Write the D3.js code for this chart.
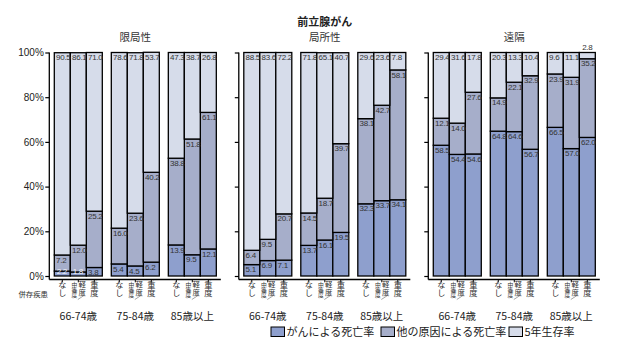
<!DOCTYPE html>
<html><head><meta charset="utf-8">
<script src="https://cdn.jsdelivr.net/npm/d3@7/dist/d3.min.js"></script>
<style>body{margin:0;background:#fff} svg{display:block}</style>
</head><body><svg id="c" width="618" height="341"></svg>
<script>
const chartTitle = "前立腺がん";
const stages = ["限局性", "局所性", "遠隔"];
const ages = ["66-74歳", "75-84歳", "85歳以上"];
const comorb = ["なし", "中等度/軽度", "重度"];
const comorbAxisTitle = "併存疾患";
const seriesNames = ["がんによる死亡率", "他の原因による死亡率", "5年生存率"];
const yTicks = [0, 20, 40, 60, 80, 100];
// per stage: [66-74 なし, 中軽, 重, 75-84 ..., 85+ ...]
const cancerDeath = [
  [2.2, 1.8, 3.8, 5.4, 4.5, 6.2, 13.9, 9.5, 12.1],
  [5.1, 6.9, 7.1, 13.7, 16.1, 19.5, 32.3, 33.7, 34.1],
  [58.5, 54.4, 54.6, 64.8, 64.6, 56.7, 66.5, 57.0, 62.0]
];
const otherDeath = [
  [7.2, 12.0, 25.2, 16.0, 23.6, 40.2, 38.8, 51.8, 61.1],
  [6.4, 9.5, 20.7, 14.5, 18.7, 39.7, 38.1, 42.7, 58.1],
  [12.1, 14.0, 27.6, 14.9, 22.1, 32.9, 23.9, 31.9, 35.2]
];
const survival = [
  [90.5, 86.1, 71.0, 78.6, 71.8, 53.7, 47.3, 38.7, 26.8],
  [88.5, 83.6, 72.2, 71.8, 65.1, 40.7, 29.6, 23.6, 7.8],
  [29.4, 31.6, 17.8, 20.3, 13.3, 10.4, 9.6, 11.1, 2.8]
];
const colors = ["#8e9fcd", "#a6aeca", "#d6dcea"];

const svg = d3.select("#c");
const txt = "#333";
const numFont = "'Liberation Sans Narrow','Arial Narrow','Liberation Sans',Arial,sans-serif";
const jpFont = "'Noto Sans CJK JP','Noto Sans CJK SC',sans-serif";

const y = d3.scaleLinear().domain([0, 100]).range([276, 52.5]);
const panelX = d3.scaleBand().domain(stages).range([54.3, 595.3]).paddingInner(0.145);
const groupX = d3.scaleBand().domain(ages).range([0, panelX.bandwidth()]).paddingInner(0.158);
const barX = d3.scaleBand().domain(comorb).range([0, groupX.bandwidth()]).padding(0);
const axisBottomY = 279.5;

const rows = [];
stages.forEach((s, si) => {
  ages.forEach((a, ai) => {
    comorb.forEach((c, ci) => {
      const k = ai * 3 + ci;
      rows.push({stage: s, age: a, com: c,
        v0: cancerDeath[si][k], v1: otherDeath[si][k], v2: survival[si][k]});
    });
  });
});
const layers = d3.stack().keys(["v0", "v1", "v2"])(rows);

function bx(d) { return panelX(d.stage) + groupX(d.age) + barX(d.com); }
const bw = barX.bandwidth();

// Title
svg.append("text").attr("x", panelX("局所性") + panelX.bandwidth() / 2).attr("y", 26)
  .attr("text-anchor", "middle").attr("font-family", jpFont).attr("font-weight", "bold")
  .attr("font-size", 11).attr("fill", "#222").text(chartTitle);

// Panels: titles + axes
stages.forEach((s, si) => {
  const px = panelX(s);
  svg.append("text").attr("x", px + panelX.bandwidth() / 2).attr("y", 40.5)
    .attr("text-anchor", "middle").attr("font-family", jpFont).attr("font-size", 10.5)
    .attr("fill", txt).text(s);
  const ax = px - 5;
  const g = svg.append("g").attr("transform", `translate(${ax},0)`);
  const axis = d3.axisLeft(y).tickValues(yTicks).tickSize(4).tickFormat(si === 0 ? d => d + "%" : "");
  g.call(axis);
  g.select(".domain").remove();
  g.selectAll(".tick line").attr("stroke", "#000").attr("stroke-width", 1.2);
  g.selectAll(".tick text").attr("font-family", "'Liberation Sans',Arial,sans-serif")
    .attr("font-size", 10).attr("fill", "#222").attr("x", -5.5);
  g.append("line").attr("x1", 0).attr("x2", 0).attr("y1", y(100)).attr("y2", axisBottomY)
    .attr("stroke", "#000").attr("stroke-width", 1.3);
  svg.append("line").attr("x1", ax).attr("x2", px + panelX.bandwidth() + 4.5)
    .attr("y1", axisBottomY).attr("y2", axisBottomY).attr("stroke", "#000").attr("stroke-width", 1.3);
});

// Bars
layers.forEach((layer, li) => {
  svg.append("g").selectAll("rect").data(layer).join("rect")
    .attr("x", d => bx(d.data)).attr("width", bw)
    .attr("y", d => y(d[1])).attr("height", d => y(d[0]) - y(d[1]))
    .attr("fill", colors[li]).attr("stroke", "#000").attr("stroke-width", 1.3);
});

// Value labels
layers.forEach((layer, li) => {
  layer.forEach(d => {
    const val = d.data[["v0", "v1", "v2"][li]];
    const x0 = bx(d.data);
    let t;
    if (li === 2 && val < 5) {
      t = svg.append("text").attr("x", x0 + bw / 2).attr("y", y(d[1]) - 2.5)
        .attr("text-anchor", "middle").attr("fill", txt);
    } else if (li === 0 && val < 3) {
      t = svg.append("text").attr("x", x0 + 2.5).attr("y", y(d[1]) + 2.5)
        .attr("fill", "#f4f4f8");
    } else {
      t = svg.append("text").attr("x", x0 + 1.8).attr("y", y(d[1]) + 7.6).attr("fill", txt);
    }
    t.attr("font-family", numFont).attr("font-size", 8).attr("letter-spacing", -0.3)
      .text(d3.format(".1f")(val));
  });
});

// X axis ticks and vertical comorbidity labels
function vtext(g, x, yTop, size, spacing, s) {
  g.append("text").attr("x", x).attr("y", yTop)
    .style("writing-mode", "vertical-rl").attr("text-anchor", "start")
    .attr("font-size", size).attr("letter-spacing", spacing).text(s);
}
rows.forEach(d => {
  const cx = bx(d) + bw / 2;
  svg.append("line").attr("x1", cx).attr("x2", cx).attr("y1", axisBottomY).attr("y2", axisBottomY + 2.8)
    .attr("stroke", "#000").attr("stroke-width", 1);
  const g = svg.append("g").attr("font-family", jpFont).attr("fill", txt);
  if (d.com === comorb[1]) {
    const parts = d.com.split("/");
    vtext(g, cx - 4, 281.5, 5.8, -0.5, parts[0]);
    vtext(g, cx + 3.8, 280.8, 7.4, 0.2, parts[1]);
    g.append("line").attr("x1", cx - 0.5).attr("y1", 299.5).attr("x2", cx + 6.5).attr("y2", 295)
      .attr("stroke", "#666").attr("stroke-width", 0.6);
  } else {
    vtext(g, cx, 280.5, 8.2, 0.4, d.com);
  }
});

// Age labels
stages.forEach(s => {
  ages.forEach(a => {
    svg.append("text").attr("x", panelX(s) + groupX(a) + groupX.bandwidth() / 2).attr("y", 319.5)
      .attr("text-anchor", "middle").attr("font-family", jpFont).attr("font-size", 10.5)
      .attr("fill", "#222").text(a);
  });
});

svg.append("text").attr("x", 48).attr("y", 297).attr("text-anchor", "end")
  .attr("font-family", jpFont).attr("font-size", 7.4).attr("fill", txt).text(comorbAxisTitle);

// Legend
const legendStart = [271, 381, 509];
seriesNames.forEach((n, i) => {
  const lx = legendStart[i];
  svg.append("rect").attr("x", lx).attr("y", 327).attr("width", 13.5).attr("height", 9.5)
    .attr("fill", colors[i]).attr("stroke", "#000").attr("stroke-width", 1);
  svg.append("text").attr("x", lx + 15.5).attr("y", 335.8).attr("font-family", jpFont)
    .attr("font-size", 11).attr("fill", "#222").text(n);
});
</script></body></html>
